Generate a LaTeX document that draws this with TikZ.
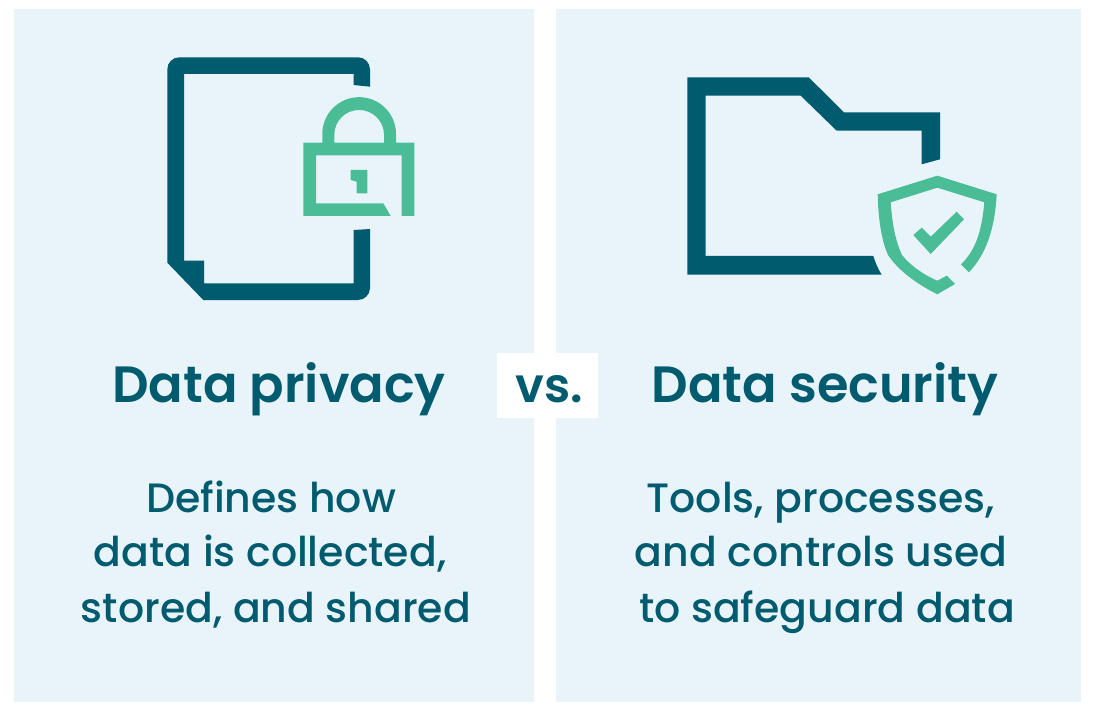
\documentclass[tikz,border=0pt]{standalone}
\usepackage{fontspec}
\usepackage{tikz}
\setmainfont{Poppins}
\newfontfamily\headfont{Poppins SemiBold}
\newfontfamily\bodyfont{Poppins Medium}
\definecolor{panelblue}{HTML}{E8F4FA}
\definecolor{darkteal}{HTML}{005B6E}
\definecolor{lockgreen}{HTML}{4BBD96}
\tikzset{
    heading/.style={anchor=base, text=darkteal, inner sep=0pt, font=\fontsize{51}{51}\headfont},
    bodyline/.style={anchor=base, text=darkteal, inner sep=0pt, font=\fontsize{41}{41}\bodyfont},
}
\begin{document}
\begin{tikzpicture}[x=1pt, y=-1pt]
    \useasboundingbox (0, 0) rectangle (1097, 711);
    \fill[white] (0, 0) rectangle (1097, 711);

    % panels
    \fill[panelblue] (14, 9) rectangle (534, 702);
    \fill[panelblue] (556, 9) rectangle (1081, 702);
    \fill[white] (497.3, 353.3) rectangle (598.3, 418.3);

    % document
    \fill[darkteal] (353.7, 85) -- (353.7, 74) -- (184, 74) -- (184, 260.7) -- (204, 260.7) -- (204, 283.3)
        -- (353.7, 283.3) -- (353.7, 230) -- (370, 229)
        [rounded corners=12] -- (370, 300) [sharp corners] -- (203.3, 300) -- (167.3, 262.7)
        [rounded corners=12] -- (167.3, 57.3) -- (370, 57.3) [sharp corners] -- (370, 86.7) -- cycle;

    % lock
    \fill[lockgreen] (401.7, 216) -- (414.3, 216) -- (414.3, 142.7) -- (303.3, 142.7) -- (303.3, 216) -- (390.7, 216)
        -- (383.3, 203.3) -- (316, 203.3) -- (316, 155.3) -- (401.7, 155.3) -- cycle;
    \fill[lockgreen] (322.3, 143) -- (322.3, 134) arc[start angle=180, end angle=360, radius=36.85] -- (396, 143)
        -- (384, 143) -- (384, 134.8) arc[start angle=360, end angle=180, radius=24.85] -- (334.3, 143) -- cycle;
    \fill[lockgreen] (350.7, 170) -- (367.3, 170) -- (367.3, 193.3) -- (356.7, 193.3) -- (356.7, 181.7) -- (350.7, 180) -- cycle;

    % folder
    \fill[darkteal] (687.3, 77.3) -- (808.7, 77.3) -- (844, 112.3) -- (940, 112.3) -- (940, 159.3) -- (921.7, 164.3)
        -- (921.7, 130.7) -- (836.7, 130.7) -- (800.7, 95.7) -- (705.7, 95.7) -- (705.7, 256) -- (873.3, 256)
        .. controls (875.5, 263) and (878, 269) .. (881.7, 274.7) -- (687.3, 274.7) -- cycle;

    % shield
    \fill[lockgreen] (946.7, 275.7) -- (955, 284) -- (937.3, 294.3)
        .. controls (915, 283) and (898, 270) .. (888, 255)
        .. controls (881, 240) and (878, 215) .. (877.7, 194.3)
        -- (937.3, 175.7) -- (996.7, 194.3)
        .. controls (995, 225) and (988, 252) .. (969, 272.3) -- (961, 264.3)
        .. controls (977, 249) and (982, 228) .. (984.3, 202.3)
        -- (937.3, 187.7) -- (890.7, 202.3)
        .. controls (892, 222) and (895, 240) .. (902, 255)
        .. controls (910, 265) and (922, 274) .. (937.3, 280.7) -- cycle;
    \fill[lockgreen] (913.3, 235) -- (921.7, 227.7) -- (930.7, 236.7) -- (956.7, 211.7) -- (964, 219.3) -- (930.7, 254) -- cycle;

    % texts
    \node[heading] (privacy) at (279, 402) {Data privacy};
    \node[heading, font=\fontsize{48}{48}\headfont] (versus) at (549.5, 402) {vs.};
    \node[heading] (security) at (825, 402) {Data security};

    \node[bodyline] (privacyA) at (271, 512) {Defines how};
    \node[bodyline] (privacyB) at (270, 566) {data is collected,};
    \node[bodyline] (privacyC) at (276, 622) {stored, and shared};

    \node[bodyline] (securityA) at (820.5, 512) {Tools, processes,};
    \node[bodyline] (securityB) at (821, 566) {and controls used};
    \node[bodyline] (securityC) at (827, 622) {to safeguard data};
\end{tikzpicture}
\end{document}
